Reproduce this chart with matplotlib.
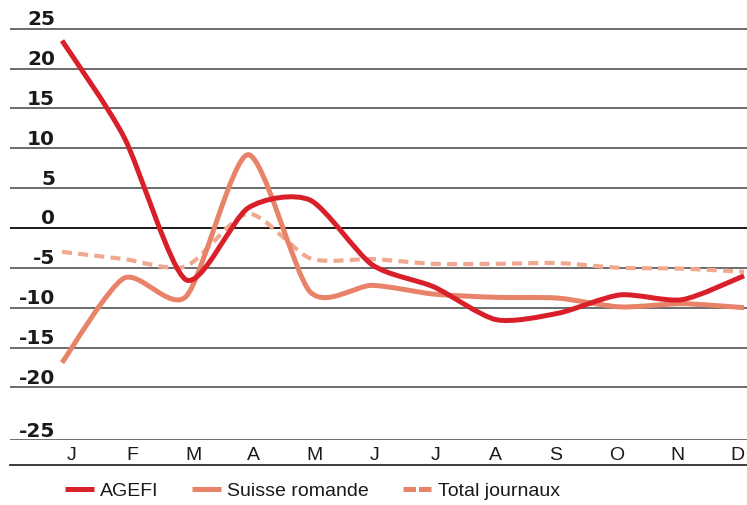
import numpy as np
import matplotlib

matplotlib.use("Agg")
import matplotlib.pyplot as plt
from matplotlib.path import Path
from matplotlib.patches import PathPatch
from matplotlib.lines import Line2D

MONTHS = ["J", "F", "M", "A", "M", "J", "J", "A", "S", "O", "N", "D"]
AGEFI = [23.5, 11.4, -6.5, 2.5, 3.5, -4.6, -7.4, -11.5, -10.7, -8.4, -9.0, -6.0]
SUISSE_ROMANDE = [-16.9, -6.3, -8.6, 9.2, -8.0, -7.2, -8.3, -8.7, -8.8, -9.9, -9.5, -10.0]
TOTAL_JOURNAUX = [-3.0, -3.9, -4.8, 1.8, -3.8, -3.9, -4.5, -4.5, -4.4, -5.0, -5.1, -5.5]
Y_TICKS = [25, 20, 15, 10, 5, 0, -5, -10, -15, -20, -25]

RED = "#d81f2a"
SALMON = "#e8836a"
PALE = "#f0a990"
GRID = "#6b6b6b"
INK = "#1a1a1a"
TEXT_FONT = ["Liberation Sans", "DejaVu Sans"]

W, H = 747, 505
fig = plt.figure(figsize=(W / 100, H / 100), dpi=100, facecolor="white")
# plot area: x from 10px to right edge, y from top to the -25 line (440px)
ax = fig.add_axes([10 / W, 1 - 440 / H, 1 - 10 / W, 440 / H])
ax.set_xlim(-0.839, 11.048)
ax.set_ylim(-26.6, 28.6)
for side in ax.spines:
    ax.spines[side].set_visible(False)


def smooth_path(xs, ys, tension=0.75):
    """Cardinal curve through the points, drawn as cubic Bezier segments."""
    pts = np.column_stack([xs, ys]).astype(float)
    n = len(pts)
    verts = [pts[0]]
    codes = [Path.MOVETO]
    for i in range(n - 1):
        p0 = pts[max(i - 1, 0)]
        p1 = pts[i]
        p2 = pts[i + 1]
        p3 = pts[min(i + 2, n - 1)]
        verts += [p1 + tension * (p2 - p0) / 6, p2 - tension * (p3 - p1) / 6, p2]
        codes += [Path.CURVE4] * 3
    return Path(verts, codes)


# grid lines; the lowest label sits on the bottom edge of the plot
ymin = ax.get_ylim()[0]
for v in Y_TICKS:
    ypos = v if v != Y_TICKS[-1] else ymin
    ax.axhline(ypos, color=INK if v == 0 else GRID, linewidth=1.4, zorder=1)
    ax.annotate(str(v), xy=(0.061, ypos), xycoords=ax.get_yaxis_transform(),
                xytext=(0, 2.5), textcoords="offset points", ha="right", va="baseline",
                fontsize=14.5, fontweight="bold", color=INK)

x = np.arange(len(MONTHS))
series = [
    (TOTAL_JOURNAUX, PALE, (0, (2.4, 1.5)), 3.0, 2),
    (SUISSE_ROMANDE, SALMON, "solid", 3.6, 3),
    (AGEFI, RED, "solid", 3.6, 4),
]
for values, color, style, lw, z in series:
    patch = PathPatch(smooth_path(x, values), facecolor="none", edgecolor=color,
                      linewidth=lw, linestyle=style, capstyle="butt", joinstyle="round",
                      zorder=z)
    ax.add_patch(patch)

ax.set_yticks([])
ax.set_xticks(0.161 + 0.976 * x)
ax.set_xticklabels(MONTHS, family=TEXT_FONT, fontsize=14, color=INK)
ax.tick_params(axis="x", length=0, pad=5)

# x-axis base line below the month labels
fig.add_artist(Line2D([10 / W, 1], [1 - 465 / H] * 2, color=INK, linewidth=1.2))

handles = [
    Line2D([], [], color=RED, linewidth=3.6, solid_capstyle="butt"),
    Line2D([], [], color=SALMON, linewidth=3.6, solid_capstyle="butt"),
    Line2D([], [], color=SALMON, linewidth=3.6, linestyle=(0, (2.5, 0.6)), dash_capstyle="butt"),
]
fig.legend(handles, ["AGEFI", "Suisse romande", "Total journaux"],
           loc="center left", bbox_to_anchor=(47 / W, 1 - 491 / H), ncol=3, frameon=False,
           prop={"family": TEXT_FONT, "size": 14},
           handlelength=1.5, handletextpad=0.3, columnspacing=1.75, labelcolor=INK)

fig.savefig("out.png", dpi=100, facecolor="white")
